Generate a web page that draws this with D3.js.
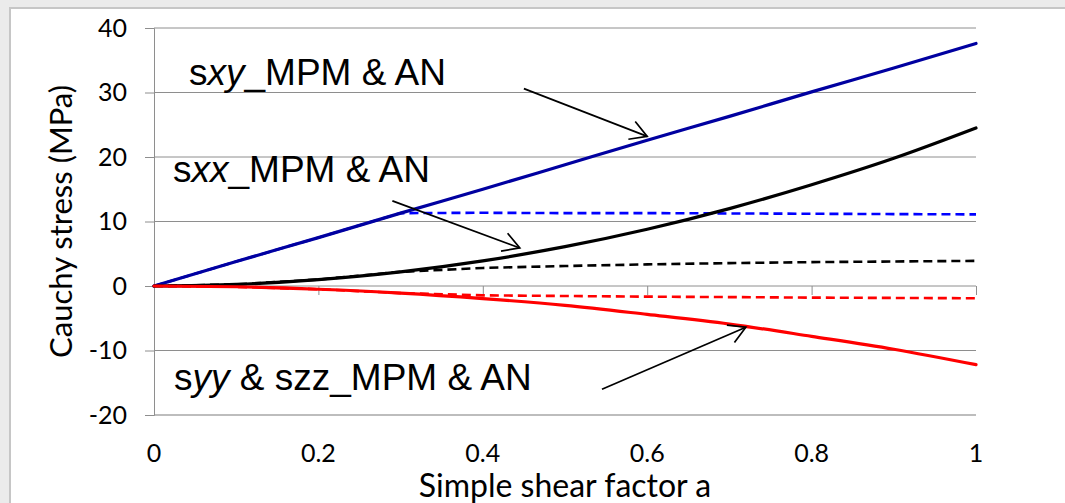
<!DOCTYPE html>
<html>
<head>
<meta charset="utf-8">
<script src="https://cdn.jsdelivr.net/npm/d3@7"></script>
<style>
  body { margin: 0; background: #ebebeb; }
  svg { display: block; }
</style>
</head>
<body>
<svg id="chart" width="1065" height="503"></svg>
<script>
// shear factor a
var shear = [0, 0.1, 0.2, 0.3, 0.4, 0.5, 0.6, 0.7, 0.8, 0.9, 1.0];

// solid curves (MPM & AN)
var sxy = [0, 3.8, 7.5, 11.3, 15.0, 18.8, 22.6, 26.3, 30.1, 33.8, 37.6];
var sxx = [0, 0.25, 1.0, 2.2, 3.9, 6.1, 8.8, 12.0, 15.7, 19.8, 24.5];
var syy = [0, -0.12, -0.5, -1.1, -1.95, -3.0, -4.4, -5.9, -7.8, -9.8, -12.2];

// dashed curves
var sxyDash = [0, 3.8, 7.5, 11.3, 11.35, 11.3, 11.3, 11.25, 11.2, 11.15, 11.1];
var sxxDash = [0, 0.25, 1.0, 2.2, 2.8, 3.1, 3.35, 3.55, 3.7, 3.8, 3.9];
var syyDash = [0, -0.12, -0.5, -1.1, -1.45, -1.55, -1.65, -1.72, -1.8, -1.85, -1.9];

var xTicks = [0, 0.2, 0.4, 0.6, 0.8, 1];
var yTicks = [-20, -10, 0, 10, 20, 30, 40];

// annotation arrows [x0, y0, x1, y1] in data units
var arrows = [
  [0.45, 30.6, 0.6, 23.2],
  [0.29, 13.2, 0.445, 5.9],
  [0.545, -16.0, 0.72, -6.4]
];

var svg = d3.select("#chart");

var x = d3.scaleLinear().domain([0, 1]).range([154, 976]);
var y = d3.scaleLinear().domain([-20, 40]).range([415, 28]);

// white chart box
svg.append("rect")
    .attr("x", 10).attr("y", 8)
    .attr("width", 1070).attr("height", 510)
    .style("fill", "#fff")
    .style("stroke", "#c6c6c6")
    .style("stroke-width", 2);

// gridlines
svg.append("g")
    .selectAll("line")
    .data(yTicks.filter(function (d) { return d != 0 && d != -20; }))
    .enter().append("line")
    .attr("x1", x(0)).attr("x2", x(1))
    .attr("y1", function (d) { return y(d); })
    .attr("y2", function (d) { return y(d); })
    .style("stroke", "#8e8e8e")
    .style("stroke-width", 1);

svg.append("line")
    .attr("x1", x(0)).attr("x2", x(1))
    .attr("y1", y(-20)).attr("y2", y(-20))
    .style("stroke", "#bdbdbd")
    .style("stroke-width", 2);

// y axis
var yAxis = d3.axisLeft(y)
    .tickValues(yTicks)
    .tickSize(9)
    .tickPadding(18)
    .tickFormat(function (d) { return String(d); });

var gy = svg.append("g")
    .attr("transform", "translate(" + x(0) + ",0)")
    .call(yAxis);
gy.select(".domain").style("stroke", "#8e8e8e");
gy.selectAll(".tick line").style("stroke", "#8e8e8e");
gy.selectAll("text")
    .style("font-family", "Lato, 'Open Sans', sans-serif")
    .style("font-size", "25px")
    .style("fill", "#000");

// x axis along zero
var xAxis = d3.axisBottom(x)
    .tickValues(xTicks)
    .tickSize(9)
    .tickFormat("");
var gx = svg.append("g")
    .attr("transform", "translate(0," + y(0) + ")")
    .call(xAxis);
gx.select(".domain").style("stroke", "#8e8e8e").attr("d", "M" + x(0) + ",0H" + x(1));
gx.selectAll(".tick line").style("stroke", "#8e8e8e");

// x tick labels at the bottom
svg.append("g")
    .selectAll("text")
    .data(xTicks)
    .enter().append("text")
    .attr("x", function (d) { return x(d); })
    .attr("y", 462)
    .attr("text-anchor", "middle")
    .style("font-family", "Lato, 'Open Sans', sans-serif")
    .style("font-size", "25px")
    .text(function (d) { return String(d); });

// axis titles
svg.append("text")
    .attr("x", x(0.5))
    .attr("y", 497)
    .attr("text-anchor", "middle")
    .style("font-family", "Lato, 'Open Sans', sans-serif")
    .style("font-size", "32px")
    .text("Simple shear factor a");

svg.append("text")
    .attr("transform", "translate(72," + y(10) + ") rotate(-90)")
    .attr("text-anchor", "middle")
    .style("font-family", "Lato, 'Open Sans', sans-serif")
    .style("font-size", "31px")
    .text("Cauchy stress (MPa)");

// lines
var solidLine = d3.line()
    .x(function (d, i) { return x(shear[i]); })
    .y(function (d) { return y(d); })
    .curve(d3.curveMonotoneX);
var dashLine = d3.line()
    .x(function (d, i) { return x(shear[i]); })
    .y(function (d) { return y(d); });

var dashed = [
    { v: sxyDash, c: "#0000ff" },
    { v: sxxDash, c: "#000000" },
    { v: syyDash, c: "#ff0000" }
];
var solid = [
    { v: sxy, c: "#0000a0" },
    { v: sxx, c: "#000000" },
    { v: syy, c: "#ff0000" }
];

svg.append("g").selectAll("path")
    .data(dashed)
    .enter().append("path")
    .attr("d", function (d) { return dashLine(d.v); })
    .style("fill", "none")
    .style("stroke", function (d) { return d.c; })
    .style("stroke-width", 2.6)
    .style("stroke-dasharray", "9,5");

svg.append("g").selectAll("path")
    .data(solid)
    .enter().append("path")
    .attr("d", function (d) { return solidLine(d.v); })
    .style("fill", "none")
    .style("stroke", function (d) { return d.c; })
    .style("stroke-width", 3.2)
    .style("stroke-linecap", "round");

// arrows
svg.append("defs").append("marker")
    .attr("id", "head")
    .attr("markerUnits", "userSpaceOnUse")
    .attr("viewBox", "-20 -12 24 24")
    .attr("refX", 0).attr("refY", 0)
    .attr("markerWidth", 24).attr("markerHeight", 24)
    .attr("orient", "auto")
    .append("path")
    .attr("d", "M-16.5,-9.5L0,0L-16.5,9.5")
    .style("fill", "none")
    .style("stroke", "#000")
    .style("stroke-width", 1.7);

svg.append("g").selectAll("line")
    .data(arrows)
    .enter().append("line")
    .attr("x1", function (d) { return x(d[0]); })
    .attr("y1", function (d) { return y(d[1]); })
    .attr("x2", function (d) { return x(d[2]); })
    .attr("y2", function (d) { return y(d[3]); })
    .style("stroke", "#000")
    .style("stroke-width", 1.7)
    .attr("marker-end", "url(#head)");

// labels
function label(px, py, parts) {
    var t = svg.append("text")
        .attr("x", px).attr("y", py)
        .style("font-family", "'Liberation Sans', Arial, sans-serif")
        .style("font-size", "37px");
    parts.forEach(function (p) {
        t.append("tspan")
            .style("font-style", p[1] ? "italic" : "normal")
            .text(p[0]);
    });
}
label(189, 85, [["s", 0], ["xy", 1], ["_MPM & AN", 0]]);
label(173, 182, [["s", 0], ["xx", 1], ["_MPM & AN", 0]]);
label(174, 390, [["s", 0], ["yy", 1], [" & szz_MPM & AN", 0]]);
</script>
</body>
</html>
